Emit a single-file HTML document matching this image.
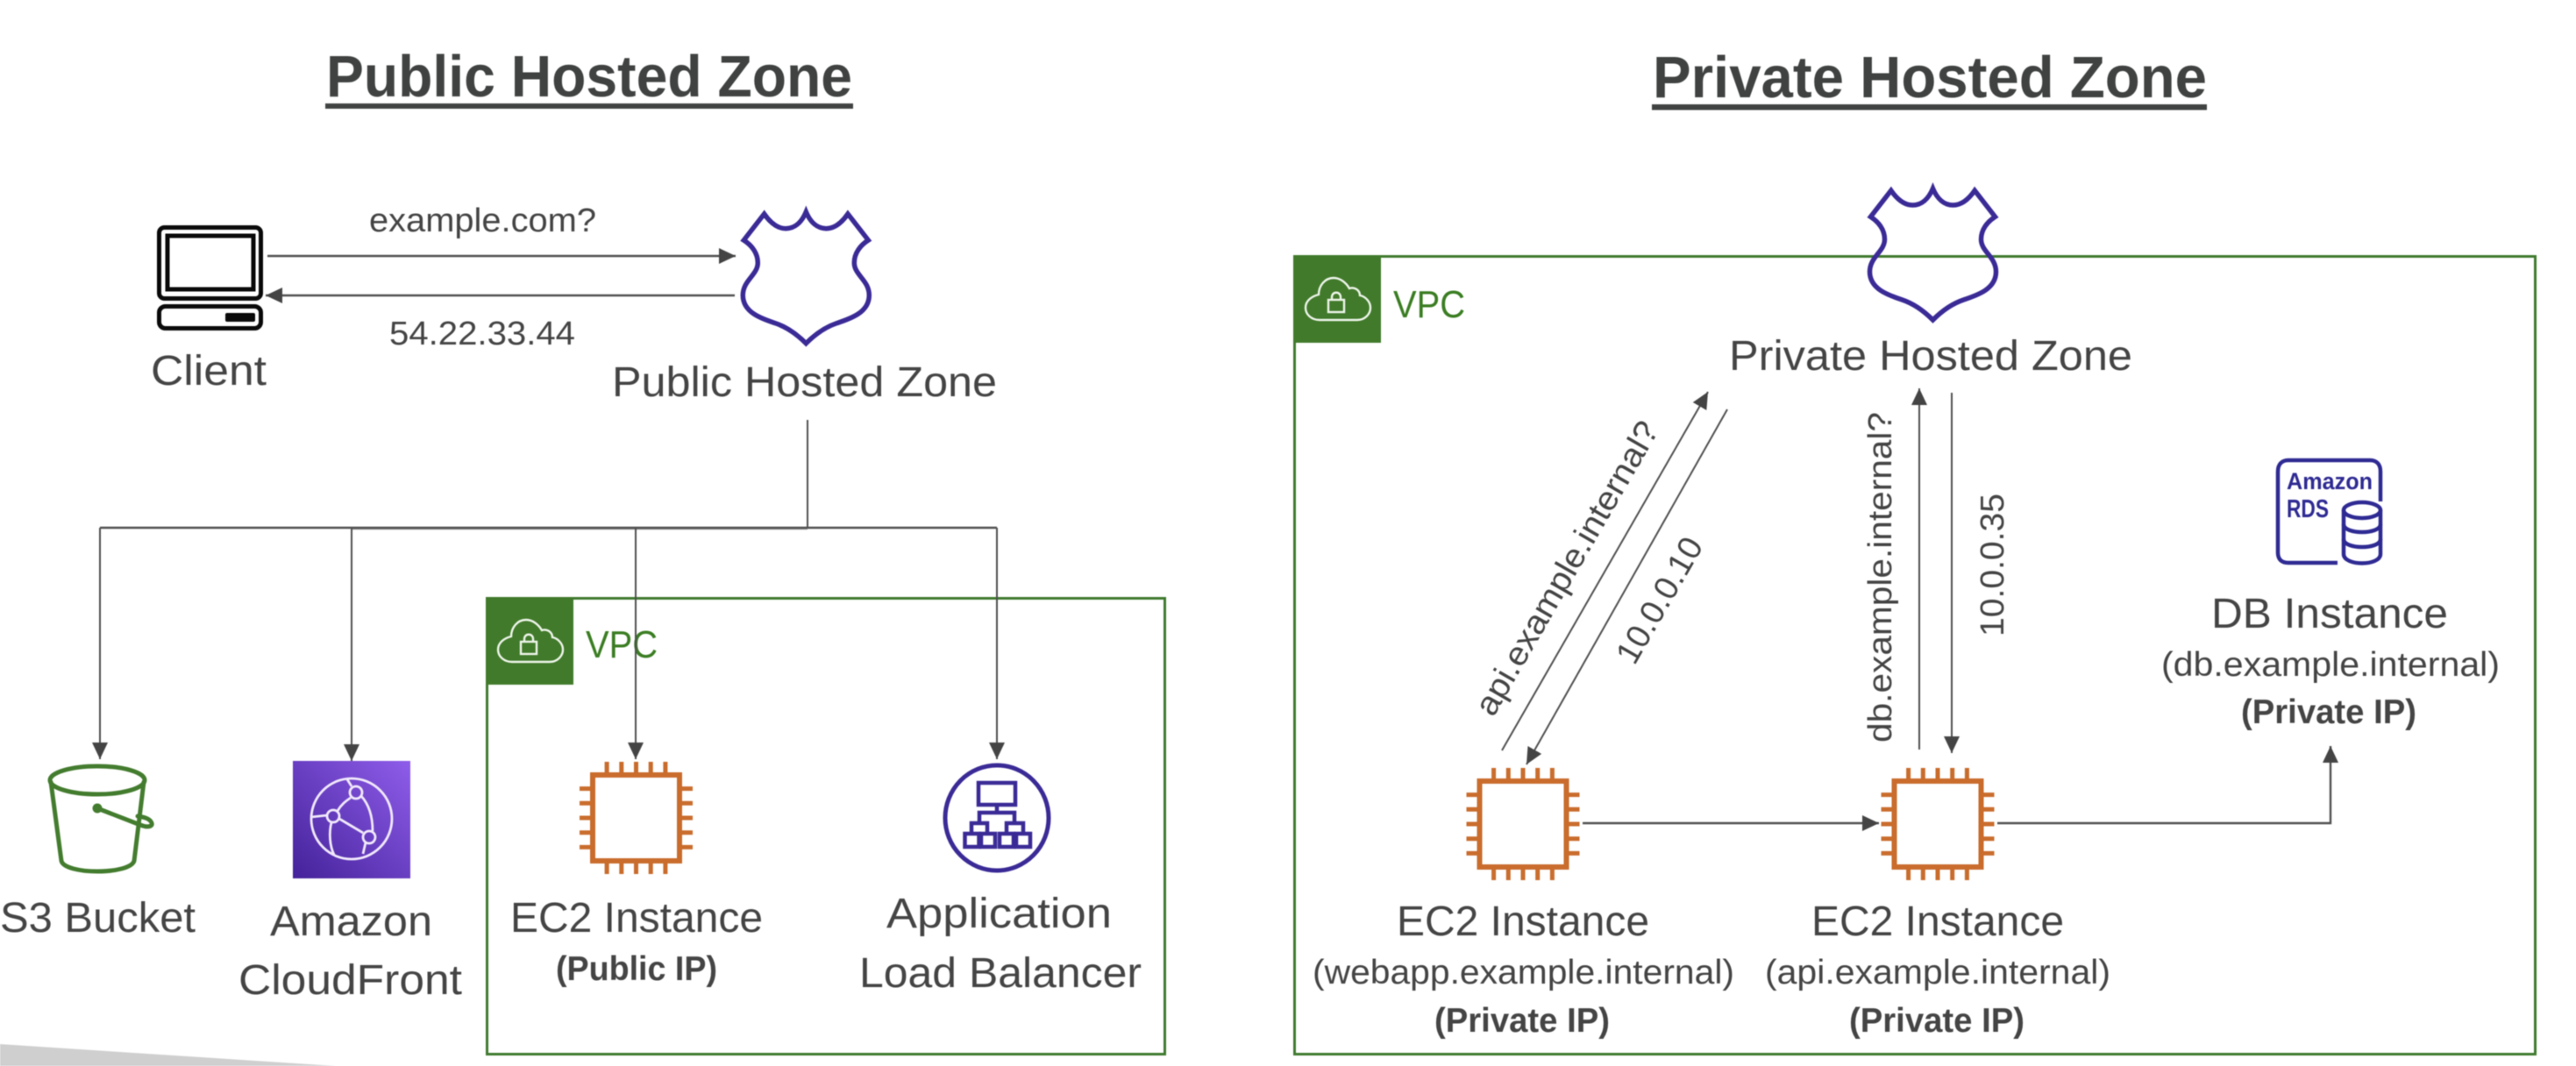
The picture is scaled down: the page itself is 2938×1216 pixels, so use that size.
<!DOCTYPE html>
<html>
<head>
<meta charset="utf-8">
<style>
html,body{margin:0;padding:0;background:#fff;width:2938px;height:1216px;overflow:hidden}
svg{display:block;filter:blur(.5px)}
text{font-family:"Liberation Sans",sans-serif;fill:#444}
.l{font-size:48px}
.s{font-size:39px}
.b{font-weight:bold;font-size:39px}
.t{font-weight:bold;font-size:67px;fill:#404242}
.v{font-size:44px;fill:#3a7d22}
.a{font-size:38px}
.ln{stroke:#505050;stroke-width:2;fill:none}
.ln2{stroke:#505050;stroke-width:2.4;fill:none}
</style>
</head>
<body>
<svg width="2938" height="1216" viewBox="0 0 2938 1216" xmlns="http://www.w3.org/2000/svg">
<defs>
<marker id="ah" markerUnits="userSpaceOnUse" markerWidth="20" markerHeight="20" refX="19" refY="9.5" orient="auto">
<path d="M0,0.5 L19,9.5 L0,18.5 Z" fill="#444"/>
</marker>
<linearGradient id="cf" x1="0" y1="1" x2="1" y2="0">
<stop offset="0" stop-color="#44229a"/><stop offset="1" stop-color="#8f5dea"/>
</linearGradient>
<g id="shield">
<path d="M0,0 C-5,12 -13,19 -23,19 C-33,19 -41,12 -47.7,2.3 L-71,32.3 C-62,38 -55,47 -55,58 C-55,72 -72,78 -72,95 C-72,115 -50,122 -35,127 C-20,132 -8,142 0,150 C8,142 20,132 35,127 C50,122 72,115 72,95 C72,78 55,72 55,58 C55,47 62,38 71,32.3 L47.7,2.3 C41,12 33,19 23,19 C13,19 5,12 0,0 Z" fill="none" stroke="#3a2a96" stroke-width="5.500" stroke-linejoin="miter"/>
</g>
<g id="ec2" fill="none" stroke="#c96c2c" stroke-width="5">
<rect x="-49.5" y="-49" width="99" height="98" stroke-width="6"/>
<path d="M-33.4,-64V-51M-16.7,-64V-51M0,-64V-51M16.7,-64V-51M33.4,-64V-51M-33.4,51V64M-16.7,51V64M0,51V64M16.7,51V64M33.4,51V64M-64.5,-33.4H-52M-64.5,-16.7H-52M-64.5,0H-52M-64.5,16.7H-52M-64.5,33.4H-52M52,-33.4H64.5M52,-16.7H64.5M52,0H64.5M52,16.7H64.5M52,33.4H64.5"/>
</g>
<g id="vpctab">
<rect x="0" y="0" width="100" height="100" fill="#417a2b"/>
<path d="M30,74 H73 C82,74 88,67 88,60 C88,53 82,47 76,46 C76,40 70,36 64,38 C60,31 53,26 46,26 C36,26 29,35 29,45 C21,47 14,52 14,60 C14,68 21,74 30,74 Z" fill="none" stroke="#eef5ea" stroke-width="2.4"/>
<rect x="40" y="51" width="18" height="14" fill="none" stroke="#eef5ea" stroke-width="2.4"/>
<path d="M44,51 V48 C44,41 54,41 54,48 V51" fill="none" stroke="#eef5ea" stroke-width="2.4"/>
</g>
</defs>

<rect width="2938" height="1216" fill="#fff"/>
<polygon points="0,1191 383,1216 0,1216" fill="#cfcfcf"/>

<!-- Titles -->
<text class="t" x="372" y="110" textLength="600" lengthAdjust="spacingAndGlyphs">Public Hosted Zone</text>
<rect x="371" y="118" width="602" height="6" fill="#404242"/>
<text class="t" x="1885" y="111" textLength="632" lengthAdjust="spacingAndGlyphs">Private Hosted Zone</text>
<rect x="1884" y="119" width="633" height="6.500" fill="#404242"/>

<!-- VPC boxes -->
<rect x="555.500" y="682.500" width="773" height="520" fill="none" stroke="#3f7a2f" stroke-width="3"/>
<use href="#vpctab" x="554" y="681"/>
<text class="v" x="668" y="750" textLength="82" lengthAdjust="spacingAndGlyphs">VPC</text>

<rect x="1476.500" y="292.500" width="1415" height="910" fill="none" stroke="#3f7a2f" stroke-width="3"/>
<use href="#vpctab" x="1475" y="291"/>
<text class="v" x="1589" y="362" textLength="82" lengthAdjust="spacingAndGlyphs">VPC</text>

<!-- Client -->
<g fill="none" stroke="#0a0a0a">
<rect x="181.500" y="259.500" width="116" height="81" rx="6" stroke-width="5"/>
<rect x="191" y="269" width="98" height="61" stroke-width="5"/>
<rect x="181.500" y="349.500" width="116" height="25" rx="7" stroke-width="5"/>
</g>
<rect x="257" y="357" width="34" height="10" rx="2" fill="#0a0a0a"/>
<text class="l" x="172" y="439" textLength="132" lengthAdjust="spacingAndGlyphs">Client</text>

<!-- Public shield -->
<use href="#shield" x="919.300" y="241.700"/>
<text class="l" x="698" y="452" textLength="439" lengthAdjust="spacingAndGlyphs">Public Hosted Zone</text>

<!-- Client arrows -->
<line class="ln2" x1="305" y1="292" x2="839" y2="292" marker-end="url(#ah)"/>
<line class="ln2" x1="838" y1="337" x2="303" y2="337" marker-end="url(#ah)"/>
<text class="a" x="421" y="264" textLength="259" lengthAdjust="spacingAndGlyphs">example.com?</text>
<text class="a" x="444" y="393" textLength="212" lengthAdjust="spacingAndGlyphs">54.22.33.44</text>

<!-- Tree -->
<polyline class="ln" points="921,479 921,602"/>
<line x1="401" y1="603.500" x2="921" y2="603.500" stroke="#999" stroke-width="1.500"/>
<line class="ln2" x1="114" y1="602" x2="1137" y2="602"/>
<line class="ln" x1="114" y1="602" x2="114" y2="866" marker-end="url(#ah)"/>
<line class="ln" x1="401" y1="602" x2="401" y2="868" marker-end="url(#ah)"/>
<line class="ln" x1="725" y1="602" x2="725" y2="866" marker-end="url(#ah)"/>
<line class="ln" x1="1137" y1="602" x2="1137" y2="866" marker-end="url(#ah)"/>

<!-- S3 bucket -->
<g fill="none" stroke="#437c2e" stroke-width="5" stroke-linecap="round">
<ellipse cx="111" cy="890" rx="54" ry="16"/>
<path d="M58,892 L70,982 C74,998 148,998 153,982 L164,892"/>
<path d="M111,922 L160,941 C170,945 176,942 172,937 C169,933 163,932 157,931"/>
</g>
<circle cx="111" cy="922" r="5.500" fill="#437c2e"/>
<text class="l" x="0" y="1063" textLength="223" lengthAdjust="spacingAndGlyphs">S3 Bucket</text>

<!-- CloudFront -->
<rect x="334" y="868" width="134" height="134" fill="url(#cf)"/>
<g fill="none" stroke="#f1e9fb" stroke-width="2.800">
<circle cx="401" cy="934" r="46"/>
<circle cx="406" cy="904" r="7"/>
<circle cx="380" cy="931" r="7"/>
<circle cx="421" cy="955" r="7"/>
<path d="M400,910 C394,914 389,918 385,925"/>
<path d="M387,934 L414,950"/>
<path d="M412,908 C421,918 425,932 425,948"/>
<path d="M355,932 L373,930"/>
<path d="M378,938 C375,950 376,965 381,975"/>
<path d="M396,889 L401,897"/>
<path d="M417,961 L414,974"/>
</g>
<text class="l" x="308" y="1067" textLength="185" lengthAdjust="spacingAndGlyphs">Amazon</text>
<text class="l" x="272" y="1134" textLength="255" lengthAdjust="spacingAndGlyphs">CloudFront</text>

<!-- Public EC2 -->
<use href="#ec2" x="725.500" y="933"/>
<text class="l" x="582" y="1063" textLength="288" lengthAdjust="spacingAndGlyphs">EC2 Instance</text>
<text class="b" x="634" y="1118" textLength="184" lengthAdjust="spacingAndGlyphs">(Public IP)</text>

<!-- ALB -->
<g fill="none" stroke="#3a2a96" stroke-width="4.500">
<ellipse cx="1137" cy="933" rx="59" ry="60" stroke-width="5"/>
<rect x="1116" y="893" width="42" height="25"/>
<path d="M1137,918 V927 M1117,939 V927 H1157 V939"/>
<path d="M1108,950 V939 H1126 V950 M1148,950 V939 H1167 V950"/>
<rect x="1100.500" y="951" width="16" height="15"/>
<rect x="1119" y="951" width="16" height="15"/>
<rect x="1140" y="951" width="16" height="15"/>
<rect x="1159" y="951" width="16" height="15"/>
</g>
<text class="l" x="1011" y="1058" textLength="257" lengthAdjust="spacingAndGlyphs">Application</text>
<text class="l" x="980" y="1126" textLength="322" lengthAdjust="spacingAndGlyphs">Load Balancer</text>

<!-- Private shield -->
<use href="#shield" x="2204.500" y="215"/>
<text class="l" x="1972" y="422" textLength="460" lengthAdjust="spacingAndGlyphs">Private Hosted Zone</text>

<!-- Private arrows -->
<line class="ln" x1="1713" y1="856" x2="1948" y2="447" marker-end="url(#ah)"/>
<line class="ln" x1="1970" y1="467" x2="1741" y2="872" marker-end="url(#ah)"/>
<line class="ln" x1="2189" y1="855" x2="2189" y2="443" marker-end="url(#ah)"/>
<line class="ln" x1="2226" y1="448" x2="2226" y2="859" marker-end="url(#ah)"/>
<line class="ln2" x1="1805" y1="939" x2="2143" y2="939" marker-end="url(#ah)"/>
<polyline class="ln2" points="2278,939 2658,939 2658,851" marker-end="url(#ah)"/>

<text class="a" transform="translate(1703,819) rotate(-60)" textLength="380" lengthAdjust="spacingAndGlyphs">api.example.internal?</text>
<text class="a" transform="translate(1864,760) rotate(-60)" textLength="159" lengthAdjust="spacingAndGlyphs">10.0.0.10</text>
<text class="a" transform="translate(2157,847) rotate(-90)" textLength="377" lengthAdjust="spacingAndGlyphs">db.example.internal?</text>
<text class="a" transform="translate(2285,726) rotate(-90)" textLength="163" lengthAdjust="spacingAndGlyphs">10.0.0.35</text>

<!-- Private EC2s -->
<use href="#ec2" x="1737" y="940"/>
<use href="#ec2" x="2210" y="940"/>
<text class="l" x="1593" y="1067" textLength="288" lengthAdjust="spacingAndGlyphs">EC2 Instance</text>
<text class="s" x="1497" y="1122" textLength="481" lengthAdjust="spacingAndGlyphs">(webapp.example.internal)</text>
<text class="b" x="1636" y="1177" textLength="200" lengthAdjust="spacingAndGlyphs">(Private IP)</text>
<text class="l" x="2066" y="1067" textLength="288" lengthAdjust="spacingAndGlyphs">EC2 Instance</text>
<text class="s" x="2013" y="1122" textLength="394" lengthAdjust="spacingAndGlyphs">(api.example.internal)</text>
<text class="b" x="2109" y="1177" textLength="200" lengthAdjust="spacingAndGlyphs">(Private IP)</text>

<!-- RDS -->
<g fill="none" stroke="#2e2a93" stroke-width="4.500">
<path d="M2666,642 H2610 C2602,642 2598,638 2598,630 V538 C2598,530 2602,525 2610,525 H2703 C2711,525 2715,530 2715,538 V572"/>
<ellipse cx="2694" cy="582" rx="21" ry="9"/>
<path d="M2673,582 V632 C2673,646 2715,646 2715,632 V582"/>
<path d="M2673,598 C2673,610 2715,610 2715,598"/>
<path d="M2673,615 C2673,627 2715,627 2715,615"/>
</g>
<text x="2608" y="558" font-size="27" font-weight="bold" style="fill:#2e2a93" textLength="98" lengthAdjust="spacingAndGlyphs">Amazon</text>
<text x="2608" y="590" font-size="29" font-weight="bold" style="fill:#2e2a93" textLength="48" lengthAdjust="spacingAndGlyphs">RDS</text>

<text class="l" x="2522" y="716" textLength="270" lengthAdjust="spacingAndGlyphs">DB Instance</text>
<text class="s" x="2465" y="771" textLength="386" lengthAdjust="spacingAndGlyphs">(db.example.internal)</text>
<text class="b" x="2556" y="825" textLength="200" lengthAdjust="spacingAndGlyphs">(Private IP)</text>
</svg>
</body>
</html>
